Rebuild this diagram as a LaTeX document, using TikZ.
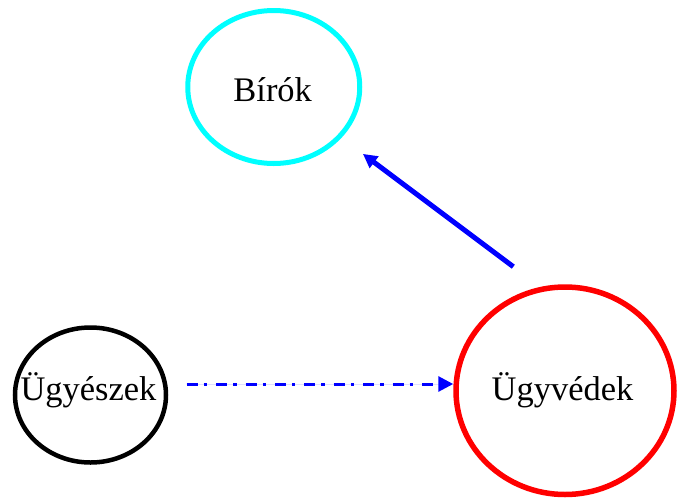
\documentclass[tikz,border=0pt]{standalone}
\usepackage{fontspec}
\setmainfont{Liberation Serif}
\usetikzlibrary{arrows.meta,shapes.geometric}
\definecolor{pcyan}{RGB}{0,255,255}
\definecolor{pred}{RGB}{255,0,0}
\definecolor{pblue}{RGB}{0,0,255}
\begin{document}
\begin{tikzpicture}[x=1pt,y=-1pt,
  oval/.style={ellipse,inner sep=0pt,draw},
  lbl/.style={anchor=base,inner sep=0pt,font=\fontsize{34.45}{40}\selectfont},
  solidarrow/.style={draw=pblue,line width=5pt,-{Triangle[length=14pt,width=14pt]},fill=pblue},
  dasharrow/.style={draw=pblue,line width=3pt,dash pattern=on 11pt off 6pt on 3.5pt off 8.9pt,-{Triangle[length=15pt,width=15pt]},fill=pblue}]
\useasboundingbox (0,0) rectangle (678,499);
% ellipses
\node[oval,draw=pcyan,line width=5pt,minimum width=172pt,minimum height=153pt] (birok) at (273.75,87) {};
\node[oval,draw=black,line width=4.5pt,minimum width=151pt,minimum height=135pt] (ugyeszek) at (90.5,395) {};
\node[oval,draw=pred,line width=5.5pt,minimum width=218pt,minimum height=207.5pt] (ugyvedek) at (565,390.75) {};
% texts
\node[lbl] (birok-t) at (272.7,101) {Bírók};
\node[lbl] (ugyeszek-t) at (88.5,400.7) {Ügyészek};
\node[lbl] (ugyvedek-t) at (562.5,400.7) {Ügyvédek};
% connectors
\coordinate (s1) at (513.3,266.7);
\draw[solidarrow,shorten >=26.8pt] (s1) -- (birok);
\coordinate (s2) at (186.7,384);
\draw[dasharrow] (s2) -- (s2 -| ugyvedek.west);
\end{tikzpicture}
\end{document}
